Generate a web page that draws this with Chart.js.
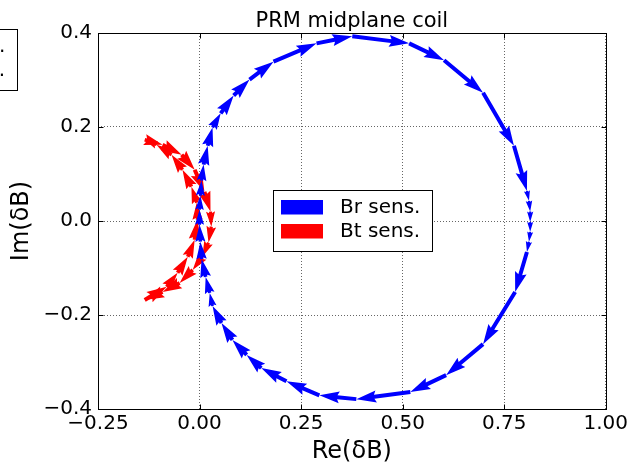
<!DOCTYPE html>
<html>
<head>
<meta charset="utf-8">
<script src="https://cdn.jsdelivr.net/npm/chart.js@4.4.0/dist/chart.umd.min.js"></script>
<style>
  html, body { margin: 0; padding: 0; background: #fff; }
  #wrap { width: 631px; height: 464px; position: relative; }
</style>
</head>
<body>
<div id="wrap"><canvas id="myChart" width="631" height="464"></canvas></div>
<script>
// Br sensitivity, clockwise, starting lower left
const brRe = [0.032, 0.025, 0.015, 0.005, 0.002, 0.000, 0.000, 0.002, 0.005, 0.010,
              0.020, 0.032, 0.052, 0.084, 0.123, 0.182, 0.288, 0.376, 0.516, 0.602,
              0.698, 0.774, 0.806, 0.811, 0.814, 0.814, 0.814, 0.811, 0.806, 0.777,
              0.698, 0.607, 0.519, 0.386, 0.295, 0.214, 0.152, 0.116, 0.081, 0.054];
const brIm = [-0.181, -0.153, -0.119, -0.081, -0.044, -0.008, 0.024, 0.054, 0.086, 0.120,
              0.160, 0.199, 0.229, 0.267, 0.301, 0.339, 0.378, 0.393, 0.378, 0.342,
              0.273, 0.160, 0.064, 0.043, 0.020, -0.002, -0.023, -0.044, -0.066, -0.151,
              -0.262, -0.328, -0.364, -0.379, -0.371, -0.341, -0.313, -0.285, -0.253, -0.217];

// Bt sensitivity, outer arc down then inner arc up
const btRe = [-0.135, -0.091, -0.044, -0.012, 0.012, 0.027, 0.029, 0.022, 0.007, -0.017,
              -0.049, -0.091, -0.135, -0.081, -0.054, -0.029, -0.012, -0.005, -0.007, -0.020,
              -0.042, -0.069, -0.106];
const btIm = [0.173, 0.162, 0.141, 0.109, 0.062, 0.020, -0.012, -0.046, -0.076, -0.104,
              -0.132, -0.151, -0.168, -0.140, -0.110, -0.076, -0.040, 0.003, 0.039, 0.073,
              0.109, 0.141, 0.162];

const xTicks = [-0.25, 0, 0.25, 0.5, 0.75, 1.0];
const yTicks = [-0.4, -0.2, 0, 0.2, 0.4];
const seriesNames = ['Br sens.', 'Bt sens.'];
const seriesColors = ['#0000ff', '#ff0000'];
const chartTitle = 'PRM midplane coil';

const FONT = 'DejaVu Sans';
const SHAFT = 4;

function fmt(v, d) {
  const s = Math.abs(v).toFixed(d);
  return (v < -1e-9 ? '\u2212' : '') + s;
}

function drawArrow(ctx, x0, y0, x1, y1) {
  const dx = x1 - x0, dy = y1 - y0;
  const L = Math.hypot(dx, dy);
  if (L < 0.5) return;
  let w = SHAFT, hl = 5 * w;
  if (L < hl) { w = w * L / hl; hl = L; }
  const ha = 4.5 * w, hw = 1.5 * w, sw = w / 2;
  ctx.save();
  ctx.translate(x0, y0);
  ctx.rotate(Math.atan2(dy, dx));
  ctx.beginPath();
  ctx.moveTo(0, -sw);
  ctx.lineTo(L - ha, -sw);
  ctx.lineTo(L - hl, -hw);
  ctx.lineTo(L, 0);
  ctx.lineTo(L - hl, hw);
  ctx.lineTo(L - ha, sw);
  ctx.lineTo(0, sw);
  ctx.closePath();
  ctx.fill();
  ctx.restore();
}

function drawLegend(ctx, left, top) {
  ctx.save();
  ctx.fillStyle = '#fff';
  ctx.fillRect(left, top, 159, 61);
  ctx.strokeStyle = '#000';
  ctx.lineWidth = 1;
  ctx.strokeRect(left + 0.5, top + 0.5, 159, 61);
  ctx.font = '20px "' + FONT + '"';
  ctx.textBaseline = 'middle';
  seriesNames.forEach((name, i) => {
    ctx.fillStyle = seriesColors[i];
    ctx.fillRect(left + 8, top + 10 + i * 24, 42, 14.5);
    ctx.fillStyle = '#000';
    ctx.fillText(name, left + 67, top + 18 + i * 24);
  });
  ctx.restore();
}

const quiverPlugin = {
  id: 'quiver',
  afterDatasetsDraw(chart) {
    const { ctx, chartArea: a, scales: { x, y } } = chart;
    ctx.save();
    ctx.beginPath();
    ctx.rect(a.left, a.top, a.right - a.left, a.bottom - a.top);
    ctx.clip();
    [1, 0].forEach(di => {
      const ds = chart.data.datasets[di];
      const pts = ds.data;
      ctx.fillStyle = ds.borderColor;
      for (let i = 0; i < pts.length; i++) {
        const p = pts[i], q = pts[(i + 1) % pts.length];
        drawArrow(ctx, x.getPixelForValue(p.x), y.getPixelForValue(p.y),
                       x.getPixelForValue(q.x), y.getPixelForValue(q.y));
      }
    });
    ctx.restore();

    // frame + inward ticks
    ctx.save();
    ctx.strokeStyle = '#000';
    ctx.lineWidth = 1;
    const L = Math.round(a.left) + 0.5, R = Math.round(a.right) + 0.5;
    const T = Math.round(a.top) + 0.5, B = Math.round(a.bottom) + 0.5;
    ctx.beginPath();
    xTicks.forEach(v => {
      const px = Math.round(x.getPixelForValue(v)) + 0.5;
      ctx.moveTo(px, B); ctx.lineTo(px, B - 5);
      ctx.moveTo(px, T); ctx.lineTo(px, T + 5);
    });
    yTicks.forEach(v => {
      const py = Math.round(y.getPixelForValue(v)) + 0.5;
      ctx.moveTo(L, py); ctx.lineTo(L + 5, py);
      ctx.moveTo(R, py); ctx.lineTo(R - 5, py);
    });
    ctx.stroke();
    ctx.strokeRect(L, T, R - L, B - T);

    // title centred over the axes
    ctx.fillStyle = '#000';
    ctx.font = '21px "' + FONT + '"';
    ctx.textAlign = 'center';
    ctx.textBaseline = 'alphabetic';
    ctx.fillText(chartTitle, (a.left + a.right) / 2, 27);
    ctx.restore();

    drawLegend(ctx, 273, 190);
    drawLegend(ctx, -142, 29);
  }
};

const ctx = document.getElementById('myChart').getContext('2d');
const myChart = new Chart(ctx, {
  type: 'scatter',
  data: {
    datasets: [
      {
        label: seriesNames[0],
        data: brRe.map((v, i) => ({ x: v, y: brIm[i] })),
        borderColor: seriesColors[0],
        backgroundColor: seriesColors[0],
        pointRadius: 0,
        showLine: false
      },
      {
        label: seriesNames[1],
        data: btRe.map((v, i) => ({ x: v, y: btIm[i] })),
        borderColor: seriesColors[1],
        backgroundColor: seriesColors[1],
        pointRadius: 0,
        showLine: false
      }
    ]
  },
  options: {
    responsive: false,
    animation: false,
    layout: { padding: { left: 0, right: 24, top: 33, bottom: 0 } },
    plugins: {
      legend: { display: false },
      tooltip: { enabled: false },
      title: { display: false }
    },
    scales: {
      x: {
        type: 'linear',
        min: -0.25,
        max: 1.0,
        afterBuildTicks: s => { s.ticks = xTicks.map(v => ({ value: v })); },
        afterFit: s => { s.height = 55; },
        ticks: {
          color: '#000',
          padding: 3,
          font: { family: FONT, size: 20 },
          callback: v => fmt(v, 2)
        },
        grid: { color: 'rgba(0,0,0,0.6)', borderDash: [1, 2], drawTicks: false },
        border: { display: false, dash: [1, 2] },
        title: {
          display: true,
          text: 'Re(\u03b4B)',
          color: '#000',
          font: { family: FONT, size: 24, lineHeight: 1 },
          padding: { top: 0, bottom: 0 }
        }
      },
      y: {
        type: 'linear',
        min: -0.4,
        max: 0.4,
        afterBuildTicks: s => { s.ticks = yTicks.map(v => ({ value: v })); },
        afterFit: s => { s.width = 98; },
        ticks: {
          color: '#000',
          padding: 6,
          font: { family: FONT, size: 20 },
          callback: v => fmt(v, 1)
        },
        grid: { color: 'rgba(0,0,0,0.6)', borderDash: [1, 2], drawTicks: false },
        border: { display: false, dash: [1, 2] },
        title: {
          display: true,
          text: 'Im(\u03b4B)',
          color: '#000',
          font: { family: FONT, size: 24, lineHeight: 1 },
          padding: { top: 10, bottom: 0 }
        }
      }
    }
  },
  plugins: [quiverPlugin]
});
</script>
</body>
</html>
